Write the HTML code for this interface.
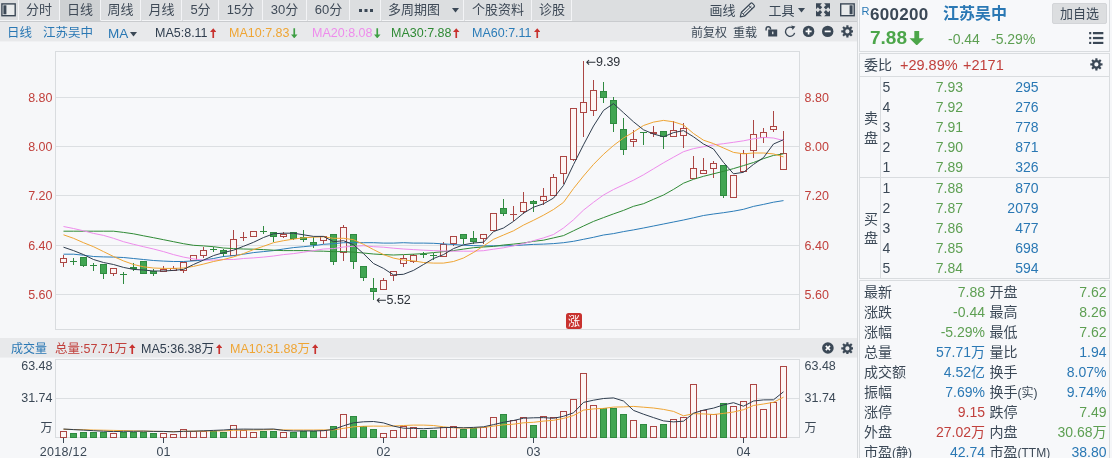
<!DOCTYPE html>
<html lang="zh-CN"><head><meta charset="utf-8"><title>江苏吴中 600200</title><style>
*{margin:0;padding:0;box-sizing:border-box}
html,body{width:1112px;height:458px;overflow:hidden;background:#f6f7f9}
body{font-family:"Liberation Sans","Noto Sans CJK SC",sans-serif;color:#3b4856;position:relative}
.abs{position:absolute;white-space:nowrap}
#tb{position:absolute;left:0;top:0;width:857px;height:22px;background:#dcdee0;border-bottom:1px solid #c9cbce}
.tab{position:absolute;top:0;height:21px;line-height:19px;font-size:13px;text-align:center;color:#3f4a57;border-right:1px solid #f3f4f6;border-bottom:1px solid #f3f4f6}
.tab.sel{background:#ced1d3;border-bottom:1px solid #ced1d3}
#r2{position:absolute;left:0;top:22px;width:857px;height:20px;background:#e8e9eb;border-bottom:1px solid #f0f1f3}
#r2 .abs{top:1px;line-height:21px;font-size:12.5px}
#vh{position:absolute;left:0;top:338px;width:857px;height:20px;background:#e8e9eb;border-bottom:1px solid #eeeff1}
#vh .abs{top:1px;line-height:21px;font-size:12.5px}
.chart{position:absolute;left:0;top:0}
.up{color:#c8322f}.dn{color:#3f9f45}
.ar{display:inline-block;width:6.5px;height:10.5px;vertical-align:-1px;margin-left:2px}
#rp{position:absolute;left:859px;top:0;width:253px;height:458px;background:#f6f7f9}
.box{position:absolute;border:1px solid #d9dcdf;background:#f7f8fa}
.row{position:absolute;left:0;width:100%;height:20px;line-height:20px;font-size:14px}
.row span{position:absolute;top:0;white-space:nowrap}
.g{color:#5d9f52}.r{color:#c1403c}.b{color:#2a78b4}
 small{font-size:12px}</style></head><body>
<div id="tb">
<div class="tab" style="left:0;width:19px"><svg width="18" height="20" viewBox="0 0 18 20" style="display:block"><rect x="1.900" y="3.900" width="13.300" height="11.800" fill="#e9ebec" stroke="#3b4856" stroke-width="1.400"/><rect x="3.400" y="5.300" width="3" height="9" fill="#3b4856"/></svg></div>
<div class="tab" style="left:19px;width:41px">分时</div>
<div class="tab sel" style="left:60px;width:41px">日线</div>
<div class="tab" style="left:101px;width:40px">周线</div>
<div class="tab" style="left:142px;width:40px">月线</div>
<div class="tab" style="left:183px;width:36px">5分</div>
<div class="tab" style="left:219px;width:44px">15分</div>
<div class="tab" style="left:263px;width:44px">30分</div>
<div class="tab" style="left:308px;width:42px">60分</div>
<div class="tab" style="left:351px;width:30px"><svg width="22" height="20" viewBox="0 0 22 20" style="display:block;margin:0 auto"><rect x="4" y="9" width="3" height="3" fill="#3b4856"/><rect x="9.500" y="9" width="3" height="3" fill="#3b4856"/><rect x="15" y="9" width="3" height="3" fill="#3b4856"/></svg></div>
<div class="tab" style="left:382px;width:82px"><span style="position:absolute;left:6px">多周期图</span><svg style="position:absolute;left:70px;top:8px" width="7" height="4.500" viewBox="0 0 7 4.500"><path d="M0 0H7L3.500 4.500Z" fill="#3b4856"/></svg></div>
<div class="tab" style="left:465px;width:67px">个股资料</div>
<div class="tab" style="left:533px;width:39px">诊股</div>
<div class="abs" style="left:709.500px;top:0;line-height:22px;font-size:13px">画线</div>
<svg class="abs" style="left:736px;top:0" width="22" height="21" viewBox="736 0 22 21"><path d="M740.300 16.800L741.400 12.200L750.800 3.200Q751.600 2.500 752.400 3.300L754.100 5.100Q754.900 5.900 754.200 6.800L744.900 15.800Z" fill="#e9ebed" stroke="#3b4856" stroke-width="1.200" stroke-linejoin="round"/><path d="M741.400 12.200L744.900 15.800M748.600 5.300L752.100 8.900M743.200 14L751.500 6" fill="none" stroke="#3b4856" stroke-width="1"/></svg>
<div class="abs" style="left:768.500px;top:0;line-height:22px;font-size:13px">工具</div>
<svg class="abs" style="left:798px;top:8px" width="7" height="4.500" viewBox="0 0 7 4.500"><path d="M0 0H7L3.500 4.500Z" fill="#3b4856"/></svg>
<svg class="abs" style="left:815.900px;top:3.200px" width="14" height="13.600" viewBox="0 0 14.200 13.200"><g fill="#3b4856"><path d="M0 0H6L4.100 1.900L6.300 4.100L4.100 6.300L1.900 4.100L0 6Z"/><path d="M0 0H6L4.100 1.900L6.300 4.100L4.100 6.300L1.900 4.100L0 6Z" transform="translate(14.200 0) scale(-1 1)"/><path d="M0 0H6L4.100 1.900L6.300 4.100L4.100 6.300L1.900 4.100L0 6Z" transform="translate(0 13.200) scale(1 -1)"/><path d="M0 0H6L4.100 1.900L6.300 4.100L4.100 6.300L1.900 4.100L0 6Z" transform="translate(14.200 13.200) scale(-1 -1)"/></g></svg>
<svg class="abs" style="left:839px;top:2px" width="17" height="16" viewBox="839 2 17 16"><rect x="840.700" y="3.900" width="13.500" height="11.800" fill="#e9ebec" stroke="#3b4856" stroke-width="1.400"/><rect x="849.600" y="5.300" width="3" height="9" fill="#3b4856"/></svg>
</div>
<div id="r2">
<div class="abs b" style="left:7px">日线</div><div class="abs b" style="left:43px">江苏吴中</div><div class="abs b" style="left:108px;font-size:13.5px">MA<svg style="margin-left:2px;vertical-align:1.500px" width="7" height="4.500" viewBox="0 0 7 4.500"><path d="M0 0H7L3.500 4.500Z" fill="#3b4856"/></svg></div>
<div class="abs" style="left:155px;color:#2f3d4e">MA5:8.11<svg class="ar" viewBox="0 0 7 11"><path d="M3.5 0 L7 4.2 H4.4 V11 H2.6 V4.2 H0 Z" fill="#c8322f"/></svg></div>
<div class="abs" style="left:229px;color:#efa534">MA10:7.83<svg class="ar" viewBox="0 0 7 11"><path d="M3.5 11 L7 6.8 H4.4 V0 H2.6 V6.8 H0 Z" fill="#3f9f45"/></svg></div>
<div class="abs" style="left:312px;color:#ee8cec">MA20:8.08<svg class="ar" viewBox="0 0 7 11"><path d="M3.5 11 L7 6.8 H4.4 V0 H2.6 V6.8 H0 Z" fill="#3f9f45"/></svg></div>
<div class="abs" style="left:391px;color:#2f8a35">MA30:7.88<svg class="ar" viewBox="0 0 7 11"><path d="M3.5 0 L7 4.2 H4.4 V11 H2.6 V4.2 H0 Z" fill="#c8322f"/></svg></div>
<div class="abs" style="left:472px;color:#2b7cb8">MA60:7.11<svg class="ar" viewBox="0 0 7 11"><path d="M3.5 0 L7 4.2 H4.4 V11 H2.6 V4.2 H0 Z" fill="#c8322f"/></svg></div>
<div class="abs" style="left:691px;font-size:12px">前复权</div><div class="abs" style="left:733px;font-size:12px">重载</div>
<svg class="abs" style="left:763px;top:2px" width="16" height="16" viewBox="763 24 16 16"><path d="M766.100 30.500V28.900A2.200 2.200 0 0 1 770.500 28.900V29.600" fill="none" stroke="#3b4856" stroke-width="1.500"/><rect x="768.200" y="29.500" width="9" height="7" fill="#3b4856"/><rect x="772.100" y="31.600" width="1.300" height="2.600" fill="#e8ebed"/></svg>
<svg class="abs" style="left:783px;top:2px" width="16" height="16" viewBox="783 24 16 16"><path d="M794.600 32.800A4.600 4.600 0 1 1 792.400 27.700" fill="none" stroke="#3b4856" stroke-width="1.300"/><path d="M791.200 25.600L795.400 26.400L792.600 30Z" fill="#3b4856"/></svg>
<svg class="abs" style="left:802px;top:2px" width="14" height="16" viewBox="802 24 14 16"><circle cx="808.600" cy="31.400" r="5.700" fill="#3b4856"/><path d="M805.600 31.400H811.600M808.600 28.400V34.400" stroke="#fff" stroke-width="1.700"/></svg>
<svg class="abs" style="left:821px;top:2px" width="14" height="16" viewBox="821 24 14 16"><circle cx="827.700" cy="31.400" r="5.700" fill="#3b4856"/><path d="M824.700 31.400H830.700" stroke="#fff" stroke-width="1.700"/></svg>
<svg class="abs" style="left:840.700px;top:3.400px" width="12.800" height="12.800" viewBox="0 0 14 14"><circle cx="7" cy="7" r="3.600" fill="none" stroke="#3b4856" stroke-width="2.600"/><g stroke="#3b4856" stroke-width="2.400"><line x1="7" y1="0.300" x2="7" y2="3" transform="rotate(0 7 7)"/><line x1="7" y1="0.300" x2="7" y2="3" transform="rotate(45 7 7)"/><line x1="7" y1="0.300" x2="7" y2="3" transform="rotate(90 7 7)"/><line x1="7" y1="0.300" x2="7" y2="3" transform="rotate(135 7 7)"/><line x1="7" y1="0.300" x2="7" y2="3" transform="rotate(180 7 7)"/><line x1="7" y1="0.300" x2="7" y2="3" transform="rotate(225 7 7)"/><line x1="7" y1="0.300" x2="7" y2="3" transform="rotate(270 7 7)"/><line x1="7" y1="0.300" x2="7" y2="3" transform="rotate(315 7 7)"/></g></svg>
</div>
<div id="vh">
<div class="abs b" style="left:11px;font-size:12px">成交量</div>
<div class="abs" style="left:55px;color:#c1403c">总量:57.71万<svg class="ar" viewBox="0 0 7 11"><path d="M3.5 0 L7 4.2 H4.4 V11 H2.6 V4.2 H0 Z" fill="#c8322f"/></svg></div>
<div class="abs" style="left:141px;color:#2f3d4e">MA5:36.38万<svg class="ar" viewBox="0 0 7 11"><path d="M3.5 0 L7 4.2 H4.4 V11 H2.6 V4.2 H0 Z" fill="#c8322f"/></svg></div>
<div class="abs" style="left:230px;color:#efa534">MA10:31.88万<svg class="ar" viewBox="0 0 7 11"><path d="M3.5 0 L7 4.2 H4.4 V11 H2.6 V4.2 H0 Z" fill="#c8322f"/></svg></div>
<svg class="abs" style="left:821px;top:3px" width="14" height="14" viewBox="0 0 14 14"><circle cx="6.900" cy="7" r="5.800" fill="#3b4856"/><path d="M4.800 4.900L9 9.100M9 4.900L4.800 9.100" stroke="#fff" stroke-width="1.600"/></svg>
<svg class="abs" style="left:840.700px;top:3.600px" width="12.800" height="12.800" viewBox="0 0 14 14"><circle cx="7" cy="7" r="3.600" fill="none" stroke="#3b4856" stroke-width="2.600"/><g stroke="#3b4856" stroke-width="2.400"><line x1="7" y1="0.300" x2="7" y2="3" transform="rotate(0 7 7)"/><line x1="7" y1="0.300" x2="7" y2="3" transform="rotate(45 7 7)"/><line x1="7" y1="0.300" x2="7" y2="3" transform="rotate(90 7 7)"/><line x1="7" y1="0.300" x2="7" y2="3" transform="rotate(135 7 7)"/><line x1="7" y1="0.300" x2="7" y2="3" transform="rotate(180 7 7)"/><line x1="7" y1="0.300" x2="7" y2="3" transform="rotate(225 7 7)"/><line x1="7" y1="0.300" x2="7" y2="3" transform="rotate(270 7 7)"/><line x1="7" y1="0.300" x2="7" y2="3" transform="rotate(315 7 7)"/></g></svg>
</div>
<svg class="chart" width="860" height="458" viewBox="0 0 860 458">
<g shape-rendering="crispEdges" fill="none" stroke="#d9dcdf" stroke-width="1">
<rect x="55.5" y="51.5" width="744" height="278" fill="#f7f8fa"/>
<rect x="55.5" y="359.5" width="744" height="78" fill="#f7f8fa"/>
<line x1="56" x2="799" y1="97.5" y2="97.5" stroke="#dcdfe2"/>
<line x1="56" x2="799" y1="146.5" y2="146.5" stroke="#dcdfe2"/>
<line x1="56" x2="799" y1="195.5" y2="195.5" stroke="#dcdfe2"/>
<line x1="56" x2="799" y1="245.5" y2="245.5" stroke="#dcdfe2"/>
<line x1="56" x2="799" y1="294.5" y2="294.5" stroke="#dcdfe2"/>
<line x1="56" x2="799" y1="398.5" y2="398.5" stroke="#dcdfe2"/>
</g>
<g shape-rendering="crispEdges">
<rect x="63" y="255" width="1" height="3" fill="#ab4644"/>
<rect x="63" y="263" width="1" height="4" fill="#ab4644"/>
<rect x="60.5" y="258.5" width="6" height="4" fill="#fdf4f3" stroke="#ab4644" stroke-width="1"/>
<rect x="73" y="258" width="1" height="3" fill="#2f8a40"/>
<rect x="73" y="262" width="1" height="3" fill="#2f8a40"/>
<rect x="70" y="261" width="7" height="1" fill="#2f8a40"/>
<rect x="83" y="266" width="1" height="1" fill="#2f8a40"/>
<rect x="80.5" y="257.5" width="6" height="8" fill="#41a552" stroke="#2f8a40" stroke-width="1"/>
<rect x="93" y="263" width="1" height="2" fill="#2f8a40"/>
<rect x="93" y="266" width="1" height="5" fill="#2f8a40"/>
<rect x="90" y="265" width="7" height="1" fill="#2f8a40"/>
<rect x="103" y="274" width="1" height="5" fill="#2f8a40"/>
<rect x="100.5" y="264.5" width="6" height="9" fill="#41a552" stroke="#2f8a40" stroke-width="1"/>
<rect x="113" y="274" width="1" height="2" fill="#ab4644"/>
<rect x="110.5" y="268.5" width="6" height="5" fill="#fdf4f3" stroke="#ab4644" stroke-width="1"/>
<rect x="123" y="272" width="1" height="2" fill="#2f8a40"/>
<rect x="123" y="275" width="1" height="9" fill="#2f8a40"/>
<rect x="120" y="274" width="7" height="1" fill="#2f8a40"/>
<rect x="133" y="263" width="1" height="4" fill="#2f8a40"/>
<rect x="133" y="269" width="1" height="2" fill="#2f8a40"/>
<rect x="130" y="267" width="7" height="2" fill="#2f8a40"/>
<rect x="140.5" y="261.5" width="6" height="12" fill="#41a552" stroke="#2f8a40" stroke-width="1"/>
<rect x="153" y="269" width="1" height="2" fill="#2f8a40"/>
<rect x="153" y="274" width="1" height="2" fill="#2f8a40"/>
<rect x="150.5" y="271.5" width="6" height="2" fill="#41a552" stroke="#2f8a40" stroke-width="1"/>
<rect x="163" y="266" width="1" height="3" fill="#ab4644"/>
<rect x="160.5" y="269.5" width="6" height="2" fill="#fdf4f3" stroke="#ab4644" stroke-width="1"/>
<rect x="173" y="266" width="1" height="2" fill="#ab4644"/>
<rect x="170.5" y="268.5" width="6" height="2" fill="#fdf4f3" stroke="#ab4644" stroke-width="1"/>
<rect x="183" y="271" width="1" height="2" fill="#ab4644"/>
<rect x="180.5" y="262.5" width="6" height="8" fill="#fdf4f3" stroke="#ab4644" stroke-width="1"/>
<rect x="190.5" y="255.5" width="6" height="5" fill="#fdf4f3" stroke="#ab4644" stroke-width="1"/>
<rect x="203" y="247" width="1" height="3" fill="#ab4644"/>
<rect x="203" y="256" width="1" height="2" fill="#ab4644"/>
<rect x="200.5" y="250.5" width="6" height="5" fill="#fdf4f3" stroke="#ab4644" stroke-width="1"/>
<rect x="213" y="247" width="1" height="2" fill="#2f8a40"/>
<rect x="213" y="250" width="1" height="2" fill="#2f8a40"/>
<rect x="210" y="249" width="7" height="1" fill="#2f8a40"/>
<rect x="223" y="249" width="1" height="1" fill="#2f8a40"/>
<rect x="223" y="254" width="1" height="3" fill="#2f8a40"/>
<rect x="220.5" y="250.5" width="6" height="3" fill="#41a552" stroke="#2f8a40" stroke-width="1"/>
<rect x="233" y="230" width="1" height="9" fill="#ab4644"/>
<rect x="230.5" y="239.5" width="6" height="16" fill="#fdf4f3" stroke="#ab4644" stroke-width="1"/>
<rect x="243" y="232" width="1" height="5" fill="#ab4644"/>
<rect x="243" y="238" width="1" height="3" fill="#ab4644"/>
<rect x="240" y="237" width="7" height="1" fill="#ab4644"/>
<rect x="250.5" y="231.5" width="6" height="5" fill="#fdf4f3" stroke="#ab4644" stroke-width="1"/>
<rect x="263" y="226" width="1" height="5" fill="#2f8a40"/>
<rect x="263" y="232" width="1" height="2" fill="#2f8a40"/>
<rect x="260" y="231" width="7" height="1" fill="#2f8a40"/>
<rect x="273" y="237" width="1" height="5" fill="#2f8a40"/>
<rect x="270.5" y="232.5" width="6" height="4" fill="#41a552" stroke="#2f8a40" stroke-width="1"/>
<rect x="283" y="232" width="1" height="2" fill="#ab4644"/>
<rect x="283" y="237" width="1" height="1" fill="#ab4644"/>
<rect x="280.5" y="234.5" width="6" height="2" fill="#fdf4f3" stroke="#ab4644" stroke-width="1"/>
<rect x="293" y="239" width="1" height="1" fill="#2f8a40"/>
<rect x="290.5" y="232.5" width="6" height="6" fill="#41a552" stroke="#2f8a40" stroke-width="1"/>
<rect x="303" y="230" width="1" height="7" fill="#2f8a40"/>
<rect x="303" y="240" width="1" height="2" fill="#2f8a40"/>
<rect x="300.5" y="237.5" width="6" height="2" fill="#41a552" stroke="#2f8a40" stroke-width="1"/>
<rect x="313" y="237" width="1" height="5" fill="#2f8a40"/>
<rect x="313" y="245" width="1" height="3" fill="#2f8a40"/>
<rect x="310.5" y="242.5" width="6" height="2" fill="#41a552" stroke="#2f8a40" stroke-width="1"/>
<rect x="323" y="241" width="1" height="3" fill="#ab4644"/>
<rect x="320.5" y="236.5" width="6" height="4" fill="#fdf4f3" stroke="#ab4644" stroke-width="1"/>
<rect x="333" y="262" width="1" height="3" fill="#2f8a40"/>
<rect x="330.5" y="234.5" width="6" height="27" fill="#41a552" stroke="#2f8a40" stroke-width="1"/>
<rect x="343" y="225" width="1" height="2" fill="#ab4644"/>
<rect x="343" y="253" width="1" height="8" fill="#ab4644"/>
<rect x="340.5" y="227.5" width="6" height="25" fill="#fdf4f3" stroke="#ab4644" stroke-width="1"/>
<rect x="353" y="262" width="1" height="7" fill="#2f8a40"/>
<rect x="350.5" y="234.5" width="6" height="27" fill="#41a552" stroke="#2f8a40" stroke-width="1"/>
<rect x="363" y="278" width="1" height="3" fill="#2f8a40"/>
<rect x="360.5" y="266.5" width="6" height="11" fill="#41a552" stroke="#2f8a40" stroke-width="1"/>
<rect x="373" y="278" width="1" height="10" fill="#2f8a40"/>
<rect x="373" y="292" width="1" height="8" fill="#2f8a40"/>
<rect x="370.5" y="288.5" width="6" height="3" fill="#41a552" stroke="#2f8a40" stroke-width="1"/>
<rect x="383" y="278" width="1" height="2" fill="#ab4644"/>
<rect x="380.5" y="280.5" width="6" height="9" fill="#fdf4f3" stroke="#ab4644" stroke-width="1"/>
<rect x="393" y="276" width="1" height="5" fill="#ab4644"/>
<rect x="390.5" y="271.5" width="6" height="4" fill="#fdf4f3" stroke="#ab4644" stroke-width="1"/>
<rect x="403" y="255" width="1" height="3" fill="#ab4644"/>
<rect x="403" y="264" width="1" height="3" fill="#ab4644"/>
<rect x="400.5" y="258.5" width="6" height="5" fill="#fdf4f3" stroke="#ab4644" stroke-width="1"/>
<rect x="413" y="254" width="1" height="1" fill="#ab4644"/>
<rect x="413" y="262" width="1" height="1" fill="#ab4644"/>
<rect x="410.5" y="255.5" width="6" height="6" fill="#fdf4f3" stroke="#ab4644" stroke-width="1"/>
<rect x="423" y="252" width="1" height="2" fill="#2f8a40"/>
<rect x="423" y="255" width="1" height="3" fill="#2f8a40"/>
<rect x="420" y="254" width="7" height="1" fill="#2f8a40"/>
<rect x="433" y="253" width="1" height="2" fill="#2f8a40"/>
<rect x="433" y="256" width="1" height="4" fill="#2f8a40"/>
<rect x="430" y="255" width="7" height="1" fill="#2f8a40"/>
<rect x="443" y="242" width="1" height="2" fill="#ab4644"/>
<rect x="440.5" y="244.5" width="6" height="12" fill="#fdf4f3" stroke="#ab4644" stroke-width="1"/>
<rect x="453" y="244" width="1" height="2" fill="#ab4644"/>
<rect x="450.5" y="236.5" width="6" height="7" fill="#fdf4f3" stroke="#ab4644" stroke-width="1"/>
<rect x="463" y="239" width="1" height="5" fill="#2f8a40"/>
<rect x="460.5" y="234.5" width="6" height="4" fill="#41a552" stroke="#2f8a40" stroke-width="1"/>
<rect x="473" y="231" width="1" height="7" fill="#2f8a40"/>
<rect x="473" y="242" width="1" height="2" fill="#2f8a40"/>
<rect x="470.5" y="238.5" width="6" height="3" fill="#41a552" stroke="#2f8a40" stroke-width="1"/>
<rect x="483" y="239" width="1" height="5" fill="#ab4644"/>
<rect x="480.5" y="234.5" width="6" height="4" fill="#fdf4f3" stroke="#ab4644" stroke-width="1"/>
<rect x="490.5" y="213.5" width="6" height="17" fill="#fdf4f3" stroke="#ab4644" stroke-width="1"/>
<rect x="503" y="199" width="1" height="9" fill="#2f8a40"/>
<rect x="503" y="214" width="1" height="2" fill="#2f8a40"/>
<rect x="500.5" y="208.5" width="6" height="5" fill="#41a552" stroke="#2f8a40" stroke-width="1"/>
<rect x="513" y="206" width="1" height="8" fill="#ab4644"/>
<rect x="513" y="215" width="1" height="6" fill="#ab4644"/>
<rect x="510" y="214" width="7" height="1" fill="#ab4644"/>
<rect x="523" y="192" width="1" height="10" fill="#ab4644"/>
<rect x="523" y="212" width="1" height="2" fill="#ab4644"/>
<rect x="520.5" y="202.5" width="6" height="9" fill="#fdf4f3" stroke="#ab4644" stroke-width="1"/>
<rect x="533" y="200" width="1" height="1" fill="#2f8a40"/>
<rect x="533" y="204" width="1" height="8" fill="#2f8a40"/>
<rect x="530.5" y="201.5" width="6" height="2" fill="#41a552" stroke="#2f8a40" stroke-width="1"/>
<rect x="543" y="188" width="1" height="8" fill="#ab4644"/>
<rect x="543" y="201" width="1" height="4" fill="#ab4644"/>
<rect x="540.5" y="196.5" width="6" height="4" fill="#fdf4f3" stroke="#ab4644" stroke-width="1"/>
<rect x="553" y="174" width="1" height="3" fill="#ab4644"/>
<rect x="550.5" y="177.5" width="6" height="18" fill="#fdf4f3" stroke="#ab4644" stroke-width="1"/>
<rect x="563" y="174" width="1" height="10" fill="#ab4644"/>
<rect x="560.5" y="156.5" width="6" height="17" fill="#fdf4f3" stroke="#ab4644" stroke-width="1"/>
<rect x="573" y="160" width="1" height="1" fill="#ab4644"/>
<rect x="570.5" y="108.5" width="6" height="51" fill="#fdf4f3" stroke="#ab4644" stroke-width="1"/>
<rect x="583" y="61" width="1" height="41" fill="#ab4644"/>
<rect x="583" y="113" width="1" height="24" fill="#ab4644"/>
<rect x="580.5" y="102.5" width="6" height="10" fill="#fdf4f3" stroke="#ab4644" stroke-width="1"/>
<rect x="593" y="80" width="1" height="10" fill="#ab4644"/>
<rect x="593" y="111" width="1" height="5" fill="#ab4644"/>
<rect x="590.5" y="90.5" width="6" height="20" fill="#fdf4f3" stroke="#ab4644" stroke-width="1"/>
<rect x="603" y="82" width="1" height="9" fill="#2f8a40"/>
<rect x="603" y="98" width="1" height="5" fill="#2f8a40"/>
<rect x="600.5" y="91.5" width="6" height="6" fill="#41a552" stroke="#2f8a40" stroke-width="1"/>
<rect x="613" y="97" width="1" height="3" fill="#2f8a40"/>
<rect x="613" y="124" width="1" height="8" fill="#2f8a40"/>
<rect x="610.5" y="100.5" width="6" height="23" fill="#41a552" stroke="#2f8a40" stroke-width="1"/>
<rect x="623" y="118" width="1" height="11" fill="#2f8a40"/>
<rect x="623" y="150" width="1" height="5" fill="#2f8a40"/>
<rect x="620.5" y="129.5" width="6" height="20" fill="#41a552" stroke="#2f8a40" stroke-width="1"/>
<rect x="633" y="130" width="1" height="9" fill="#ab4644"/>
<rect x="633" y="142" width="1" height="5" fill="#ab4644"/>
<rect x="630.5" y="139.5" width="6" height="2" fill="#fdf4f3" stroke="#ab4644" stroke-width="1"/>
<rect x="643" y="133" width="1" height="12" fill="#2f8a40"/>
<rect x="640" y="132" width="7" height="1" fill="#2f8a40"/>
<rect x="653" y="126" width="1" height="6" fill="#ab4644"/>
<rect x="653" y="134" width="1" height="3" fill="#ab4644"/>
<rect x="650" y="132" width="7" height="2" fill="#ab4644"/>
<rect x="663" y="137" width="1" height="12" fill="#2f8a40"/>
<rect x="660.5" y="131.5" width="6" height="5" fill="#41a552" stroke="#2f8a40" stroke-width="1"/>
<rect x="673" y="121" width="1" height="9" fill="#ab4644"/>
<rect x="670.5" y="130.5" width="6" height="6" fill="#fdf4f3" stroke="#ab4644" stroke-width="1"/>
<rect x="683" y="123" width="1" height="5" fill="#ab4644"/>
<rect x="683" y="136" width="1" height="12" fill="#ab4644"/>
<rect x="680.5" y="128.5" width="6" height="7" fill="#fdf4f3" stroke="#ab4644" stroke-width="1"/>
<rect x="693" y="156" width="1" height="12" fill="#ab4644"/>
<rect x="690.5" y="168.5" width="6" height="10" fill="#fdf4f3" stroke="#ab4644" stroke-width="1"/>
<rect x="703" y="158" width="1" height="12" fill="#ab4644"/>
<rect x="700.5" y="170.5" width="6" height="3" fill="#fdf4f3" stroke="#ab4644" stroke-width="1"/>
<rect x="713" y="161" width="1" height="2" fill="#ab4644"/>
<rect x="713" y="169" width="1" height="9" fill="#ab4644"/>
<rect x="710.5" y="163.5" width="6" height="5" fill="#fdf4f3" stroke="#ab4644" stroke-width="1"/>
<rect x="723" y="196" width="1" height="2" fill="#2f8a40"/>
<rect x="720.5" y="165.5" width="6" height="30" fill="#41a552" stroke="#2f8a40" stroke-width="1"/>
<rect x="730.5" y="175.5" width="6" height="22" fill="#fdf4f3" stroke="#ab4644" stroke-width="1"/>
<rect x="743" y="150" width="1" height="3" fill="#ab4644"/>
<rect x="740.5" y="153.5" width="6" height="18" fill="#fdf4f3" stroke="#ab4644" stroke-width="1"/>
<rect x="753" y="120" width="1" height="14" fill="#ab4644"/>
<rect x="753" y="151" width="1" height="7" fill="#ab4644"/>
<rect x="750.5" y="134.5" width="6" height="16" fill="#fdf4f3" stroke="#ab4644" stroke-width="1"/>
<rect x="763" y="128" width="1" height="4" fill="#ab4644"/>
<rect x="763" y="138" width="1" height="5" fill="#ab4644"/>
<rect x="760.5" y="132.5" width="6" height="5" fill="#fdf4f3" stroke="#ab4644" stroke-width="1"/>
<rect x="773" y="111" width="1" height="15" fill="#ab4644"/>
<rect x="773" y="130" width="1" height="2" fill="#ab4644"/>
<rect x="770.5" y="126.5" width="6" height="3" fill="#fdf4f3" stroke="#ab4644" stroke-width="1"/>
<rect x="783" y="131" width="1" height="22" fill="#ab4644"/>
<rect x="780.5" y="153.5" width="6" height="16" fill="#fdf4f3" stroke="#ab4644" stroke-width="1"/>
</g>
<path d="M63.5,254.2 L73.5,254.2 L83.5,255.2 L93.5,256.5 L103.5,256.9 L113.5,257.1 L123.5,257.5 L133.5,258.5 L143.5,259.5 L153.5,260.5 L163.5,261.1 L173.5,261.5 L183.5,261.5 L193.5,260.9 L203.5,260.1 L213.5,258.5 L223.5,256.5 L233.5,255.6 L243.5,254.2 L253.5,252.6 L263.5,251.6 L273.5,250.6 L283.5,249.0 L293.5,247.6 L303.5,246.7 L313.5,245.7 L323.5,244.3 L333.5,243.7 L343.5,242.7 L353.5,242.7 L363.5,242.7 L373.5,242.7 L383.5,243.1 L393.5,243.1 L403.5,242.7 L413.5,243.1 L423.5,243.1 L433.5,243.3 L443.5,243.9 L453.5,244.5 L463.5,245.2 L473.5,245.6 L483.5,245.9 L493.5,245.8 L503.5,245.8 L513.5,245.6 L523.5,245.0 L533.5,244.4 L543.5,244.1 L553.5,243.6 L563.5,242.7 L573.5,241.3 L583.5,239.3 L593.5,237.3 L603.5,235.0 L613.5,233.6 L623.5,231.6 L633.5,229.9 L643.5,228.0 L653.5,226.0 L663.5,224.0 L673.5,222.0 L683.5,220.0 L693.5,217.8 L703.5,215.5 L713.5,214.0 L723.5,212.7 L733.5,211.2 L743.5,209.3 L753.5,206.4 L763.5,204.4 L773.5,202.2 L783.5,200.6" fill="none" stroke="#2b7cb8" stroke-width="1" stroke-linejoin="round"/>
<path d="M63.5,231.2 L73.5,231.2 L83.5,231.2 L93.5,231.2 L103.5,231.2 L113.5,231.2 L123.5,232.4 L133.5,233.8 L143.5,235.8 L153.5,237.7 L163.5,239.7 L173.5,241.7 L183.5,243.7 L193.5,245.3 L203.5,245.9 L213.5,246.7 L223.5,248.0 L233.5,248.6 L243.5,249.0 L253.5,249.2 L263.5,249.6 L273.5,250.2 L283.5,250.6 L293.5,250.6 L303.5,250.6 L313.5,251.0 L323.5,251.2 L333.5,251.6 L343.5,251.6 L353.5,252.2 L363.5,253.0 L373.5,254.0 L383.5,254.6 L393.5,255.0 L403.5,254.6 L413.5,254.2 L423.5,253.6 L433.5,252.6 L443.5,251.6 L453.5,250.6 L463.5,249.1 L473.5,247.7 L483.5,247.0 L493.5,246.4 L503.5,245.0 L513.5,244.1 L523.5,243.0 L533.5,241.3 L543.5,240.2 L553.5,237.9 L563.5,235.6 L573.5,230.8 L583.5,226.0 L593.5,221.4 L603.5,217.6 L613.5,213.9 L623.5,210.4 L633.5,206.3 L643.5,203.7 L653.5,199.3 L663.5,195.0 L673.5,189.4 L683.5,183.2 L693.5,179.3 L703.5,176.3 L713.5,173.8 L723.5,171.3 L733.5,168.6 L743.5,165.6 L753.5,162.5 L763.5,158.6 L773.5,155.4 L783.5,153.9" fill="none" stroke="#2f8a35" stroke-width="1" stroke-linejoin="round"/>
<path d="M63.5,226.5 L73.5,228.5 L83.5,230.8 L93.5,233.4 L103.5,235.4 L113.5,238.3 L123.5,241.7 L133.5,244.3 L143.5,246.7 L153.5,249.0 L163.5,251.6 L173.5,254.6 L183.5,257.1 L193.5,258.9 L203.5,260.1 L213.5,260.1 L223.5,259.5 L233.5,259.5 L243.5,258.5 L253.5,257.9 L263.5,257.1 L273.5,256.0 L283.5,254.6 L293.5,253.6 L303.5,252.2 L313.5,250.6 L323.5,249.0 L333.5,248.6 L343.5,247.0 L353.5,246.3 L363.5,245.7 L373.5,246.7 L383.5,247.2 L393.5,248.2 L403.5,249.0 L413.5,249.6 L423.5,250.2 L433.5,250.6 L443.5,251.0 L453.5,251.2 L463.5,251.2 L473.5,251.2 L483.5,250.7 L493.5,249.2 L503.5,247.8 L513.5,245.8 L523.5,243.6 L533.5,240.7 L543.5,237.9 L553.5,234.5 L563.5,228.0 L573.5,219.8 L583.5,210.1 L593.5,202.3 L603.5,195.0 L613.5,189.5 L623.5,184.8 L633.5,180.2 L643.5,174.8 L653.5,168.8 L663.5,162.8 L673.5,157.2 L683.5,151.7 L693.5,148.6 L703.5,146.7 L713.5,144.9 L723.5,143.7 L733.5,142.3 L743.5,140.8 L753.5,138.8 L763.5,137.4 L773.5,138.0 L783.5,140.5" fill="none" stroke="#ee8cec" stroke-width="1" stroke-linejoin="round"/>
<path d="M63.5,234.8 L73.5,238.3 L83.5,242.7 L93.5,246.7 L103.5,251.6 L113.5,256.5 L123.5,260.9 L133.5,264.5 L143.5,266.8 L153.5,268.0 L163.5,268.4 L173.5,268.4 L183.5,268.0 L193.5,266.4 L203.5,264.1 L213.5,261.5 L223.5,259.5 L233.5,256.9 L243.5,253.6 L253.5,249.6 L263.5,246.3 L273.5,242.7 L283.5,240.7 L293.5,239.1 L303.5,237.8 L313.5,237.2 L323.5,236.8 L333.5,238.3 L343.5,238.3 L353.5,239.7 L363.5,244.3 L373.5,249.6 L383.5,254.6 L393.5,258.1 L403.5,260.1 L413.5,260.9 L423.5,262.5 L433.5,263.1 L443.5,263.1 L453.5,261.5 L463.5,258.0 L473.5,252.5 L483.5,246.0 L493.5,239.3 L503.5,235.0 L513.5,230.8 L523.5,225.1 L533.5,220.3 L543.5,215.2 L553.5,209.5 L563.5,202.4 L573.5,188.5 L583.5,176.0 L593.5,164.4 L603.5,154.3 L613.5,145.5 L623.5,138.0 L633.5,132.0 L643.5,125.5 L653.5,122.1 L663.5,120.4 L673.5,121.8 L683.5,125.0 L693.5,133.5 L703.5,140.2 L713.5,143.6 L723.5,148.0 L733.5,152.4 L743.5,153.8 L753.5,153.0 L763.5,153.0 L773.5,153.9 L783.5,156.9" fill="none" stroke="#efa534" stroke-width="1" stroke-linejoin="round"/>
<path d="M63.5,247.2 L73.5,250.6 L83.5,254.6 L93.5,259.5 L103.5,262.5 L113.5,264.5 L123.5,267.4 L133.5,269.4 L143.5,270.0 L153.5,271.0 L163.5,271.0 L173.5,270.4 L183.5,269.4 L193.5,264.5 L203.5,260.1 L213.5,255.6 L223.5,252.6 L233.5,250.2 L243.5,246.3 L253.5,242.3 L263.5,237.5 L273.5,233.8 L283.5,233.2 L293.5,233.2 L303.5,234.8 L313.5,236.4 L323.5,236.4 L333.5,241.7 L343.5,240.7 L353.5,244.7 L363.5,253.6 L373.5,263.5 L383.5,268.4 L393.5,274.9 L403.5,274.3 L413.5,270.4 L423.5,264.5 L433.5,258.5 L443.5,254.6 L453.5,248.6 L463.5,244.8 L473.5,243.0 L483.5,242.2 L493.5,231.6 L503.5,228.0 L513.5,221.4 L523.5,213.2 L533.5,207.2 L543.5,203.8 L553.5,198.1 L563.5,185.4 L573.5,164.6 L583.5,144.8 L593.5,126.0 L603.5,110.4 L613.5,103.6 L623.5,112.7 L633.5,121.8 L643.5,129.8 L653.5,134.0 L663.5,136.8 L673.5,132.6 L683.5,130.6 L693.5,136.8 L703.5,144.0 L713.5,149.0 L723.5,162.4 L733.5,173.8 L743.5,172.3 L753.5,164.4 L763.5,157.6 L773.5,144.0 L783.5,139.7" fill="none" stroke="#2f3d4e" stroke-width="1" stroke-linejoin="round"/>
<g shape-rendering="crispEdges">
<rect x="60.5" y="431.5" width="6" height="6" fill="#fdf4f3" stroke="#ab4644" stroke-width="1"/>
<rect x="70.5" y="433.5" width="6" height="4" fill="#41a552" stroke="#2f8a40" stroke-width="1"/>
<rect x="80.5" y="432.5" width="6" height="5" fill="#41a552" stroke="#2f8a40" stroke-width="1"/>
<rect x="90.5" y="432.5" width="6" height="5" fill="#41a552" stroke="#2f8a40" stroke-width="1"/>
<rect x="100.5" y="432.5" width="6" height="5" fill="#41a552" stroke="#2f8a40" stroke-width="1"/>
<rect x="110.5" y="433.5" width="6" height="4" fill="#fdf4f3" stroke="#ab4644" stroke-width="1"/>
<rect x="120.5" y="432.5" width="6" height="5" fill="#41a552" stroke="#2f8a40" stroke-width="1"/>
<rect x="130.5" y="432.5" width="6" height="5" fill="#41a552" stroke="#2f8a40" stroke-width="1"/>
<rect x="140.5" y="432.5" width="6" height="5" fill="#41a552" stroke="#2f8a40" stroke-width="1"/>
<rect x="150.5" y="433.5" width="6" height="4" fill="#41a552" stroke="#2f8a40" stroke-width="1"/>
<rect x="160.5" y="433.5" width="6" height="4" fill="#fdf4f3" stroke="#ab4644" stroke-width="1"/>
<rect x="170.5" y="434.5" width="6" height="3" fill="#fdf4f3" stroke="#ab4644" stroke-width="1"/>
<rect x="180.5" y="429.5" width="6" height="8" fill="#fdf4f3" stroke="#ab4644" stroke-width="1"/>
<rect x="190.5" y="431.5" width="6" height="6" fill="#fdf4f3" stroke="#ab4644" stroke-width="1"/>
<rect x="200.5" y="431.5" width="6" height="6" fill="#fdf4f3" stroke="#ab4644" stroke-width="1"/>
<rect x="210.5" y="431.5" width="6" height="6" fill="#41a552" stroke="#2f8a40" stroke-width="1"/>
<rect x="220.5" y="432.5" width="6" height="5" fill="#41a552" stroke="#2f8a40" stroke-width="1"/>
<rect x="230.5" y="425.5" width="6" height="12" fill="#fdf4f3" stroke="#ab4644" stroke-width="1"/>
<rect x="240.5" y="430.5" width="6" height="7" fill="#fdf4f3" stroke="#ab4644" stroke-width="1"/>
<rect x="250.5" y="432.5" width="6" height="5" fill="#fdf4f3" stroke="#ab4644" stroke-width="1"/>
<rect x="260.5" y="431.5" width="6" height="6" fill="#41a552" stroke="#2f8a40" stroke-width="1"/>
<rect x="270.5" y="431.5" width="6" height="6" fill="#41a552" stroke="#2f8a40" stroke-width="1"/>
<rect x="280.5" y="432.5" width="6" height="5" fill="#fdf4f3" stroke="#ab4644" stroke-width="1"/>
<rect x="290.5" y="432.5" width="6" height="5" fill="#41a552" stroke="#2f8a40" stroke-width="1"/>
<rect x="300.5" y="431.5" width="6" height="6" fill="#41a552" stroke="#2f8a40" stroke-width="1"/>
<rect x="310.5" y="431.5" width="6" height="6" fill="#41a552" stroke="#2f8a40" stroke-width="1"/>
<rect x="320.5" y="430.5" width="6" height="7" fill="#fdf4f3" stroke="#ab4644" stroke-width="1"/>
<rect x="330.5" y="426.5" width="6" height="11" fill="#41a552" stroke="#2f8a40" stroke-width="1"/>
<rect x="340.5" y="414.5" width="6" height="23" fill="#fdf4f3" stroke="#ab4644" stroke-width="1"/>
<rect x="350.5" y="416.5" width="6" height="21" fill="#41a552" stroke="#2f8a40" stroke-width="1"/>
<rect x="360.5" y="426.5" width="6" height="11" fill="#41a552" stroke="#2f8a40" stroke-width="1"/>
<rect x="370.5" y="429.5" width="6" height="8" fill="#41a552" stroke="#2f8a40" stroke-width="1"/>
<rect x="380.5" y="433.5" width="6" height="4" fill="#fdf4f3" stroke="#ab4644" stroke-width="1"/>
<rect x="390.5" y="430.5" width="6" height="7" fill="#fdf4f3" stroke="#ab4644" stroke-width="1"/>
<rect x="400.5" y="426.5" width="6" height="11" fill="#fdf4f3" stroke="#ab4644" stroke-width="1"/>
<rect x="410.5" y="427.5" width="6" height="10" fill="#fdf4f3" stroke="#ab4644" stroke-width="1"/>
<rect x="420.5" y="430.5" width="6" height="7" fill="#41a552" stroke="#2f8a40" stroke-width="1"/>
<rect x="430.5" y="430.5" width="6" height="7" fill="#41a552" stroke="#2f8a40" stroke-width="1"/>
<rect x="440.5" y="427.5" width="6" height="10" fill="#fdf4f3" stroke="#ab4644" stroke-width="1"/>
<rect x="450.5" y="426.5" width="6" height="11" fill="#fdf4f3" stroke="#ab4644" stroke-width="1"/>
<rect x="460.5" y="429.5" width="6" height="8" fill="#41a552" stroke="#2f8a40" stroke-width="1"/>
<rect x="470.5" y="428.5" width="6" height="9" fill="#41a552" stroke="#2f8a40" stroke-width="1"/>
<rect x="480.5" y="427.5" width="6" height="10" fill="#fdf4f3" stroke="#ab4644" stroke-width="1"/>
<rect x="490.5" y="417.5" width="6" height="20" fill="#fdf4f3" stroke="#ab4644" stroke-width="1"/>
<rect x="500.5" y="414.5" width="6" height="23" fill="#41a552" stroke="#2f8a40" stroke-width="1"/>
<rect x="510.5" y="420.5" width="6" height="17" fill="#fdf4f3" stroke="#ab4644" stroke-width="1"/>
<rect x="520.5" y="417.5" width="6" height="20" fill="#fdf4f3" stroke="#ab4644" stroke-width="1"/>
<rect x="530.5" y="425.5" width="6" height="12" fill="#41a552" stroke="#2f8a40" stroke-width="1"/>
<rect x="540.5" y="416.5" width="6" height="21" fill="#fdf4f3" stroke="#ab4644" stroke-width="1"/>
<rect x="550.5" y="417.5" width="6" height="20" fill="#fdf4f3" stroke="#ab4644" stroke-width="1"/>
<rect x="560.5" y="411.5" width="6" height="26" fill="#fdf4f3" stroke="#ab4644" stroke-width="1"/>
<rect x="570.5" y="399.5" width="6" height="38" fill="#fdf4f3" stroke="#ab4644" stroke-width="1"/>
<rect x="580.5" y="373.5" width="6" height="64" fill="#fdf4f3" stroke="#ab4644" stroke-width="1"/>
<rect x="590.5" y="405.5" width="6" height="32" fill="#fdf4f3" stroke="#ab4644" stroke-width="1"/>
<rect x="600.5" y="408.5" width="6" height="29" fill="#41a552" stroke="#2f8a40" stroke-width="1"/>
<rect x="610.5" y="408.5" width="6" height="29" fill="#41a552" stroke="#2f8a40" stroke-width="1"/>
<rect x="620.5" y="414.5" width="6" height="23" fill="#41a552" stroke="#2f8a40" stroke-width="1"/>
<rect x="630.5" y="420.5" width="6" height="17" fill="#fdf4f3" stroke="#ab4644" stroke-width="1"/>
<rect x="640.5" y="424.5" width="6" height="13" fill="#41a552" stroke="#2f8a40" stroke-width="1"/>
<rect x="650.5" y="426.5" width="6" height="11" fill="#fdf4f3" stroke="#ab4644" stroke-width="1"/>
<rect x="660.5" y="424.5" width="6" height="13" fill="#41a552" stroke="#2f8a40" stroke-width="1"/>
<rect x="670.5" y="419.5" width="6" height="18" fill="#fdf4f3" stroke="#ab4644" stroke-width="1"/>
<rect x="680.5" y="417.5" width="6" height="20" fill="#fdf4f3" stroke="#ab4644" stroke-width="1"/>
<rect x="690.5" y="384.5" width="6" height="53" fill="#fdf4f3" stroke="#ab4644" stroke-width="1"/>
<rect x="700.5" y="410.5" width="6" height="27" fill="#fdf4f3" stroke="#ab4644" stroke-width="1"/>
<rect x="710.5" y="414.5" width="6" height="23" fill="#fdf4f3" stroke="#ab4644" stroke-width="1"/>
<rect x="720.5" y="403.5" width="6" height="34" fill="#41a552" stroke="#2f8a40" stroke-width="1"/>
<rect x="730.5" y="406.5" width="6" height="31" fill="#fdf4f3" stroke="#ab4644" stroke-width="1"/>
<rect x="740.5" y="401.5" width="6" height="36" fill="#fdf4f3" stroke="#ab4644" stroke-width="1"/>
<rect x="750.5" y="384.5" width="6" height="53" fill="#fdf4f3" stroke="#ab4644" stroke-width="1"/>
<rect x="760.5" y="409.5" width="6" height="28" fill="#fdf4f3" stroke="#ab4644" stroke-width="1"/>
<rect x="770.5" y="402.5" width="6" height="35" fill="#fdf4f3" stroke="#ab4644" stroke-width="1"/>
<rect x="780.5" y="366.5" width="6" height="71" fill="#fdf4f3" stroke="#ab4644" stroke-width="1"/>
</g>
<path d="M63.5,429.3 L73.5,429.5 L83.5,429.7 L93.5,430.0 L103.5,430.2 L113.5,430.4 L123.5,430.6 L133.5,430.9 L143.5,431.1 L153.5,431.3 L163.5,431.5 L173.5,431.6 L183.5,431.3 L193.5,431.2 L203.5,431.1 L213.5,430.9 L223.5,430.9 L233.5,430.3 L243.5,430.1 L253.5,430.0 L263.5,429.8 L273.5,429.5 L283.5,429.9 L293.5,430.0 L303.5,430.0 L313.5,430.0 L323.5,429.9 L333.5,429.9 L343.5,428.4 L353.5,426.8 L363.5,426.3 L373.5,426.1 L383.5,426.2 L393.5,426.0 L403.5,425.5 L413.5,425.1 L423.5,425.1 L433.5,425.5 L443.5,426.8 L453.5,427.8 L463.5,428.1 L473.5,428.0 L483.5,427.5 L493.5,426.1 L503.5,424.8 L513.5,424.2 L523.5,422.8 L533.5,422.3 L543.5,421.1 L553.5,420.3 L563.5,418.4 L573.5,415.5 L583.5,410.1 L593.5,408.9 L603.5,408.4 L613.5,407.1 L623.5,406.9 L633.5,406.4 L643.5,407.2 L653.5,408.0 L663.5,409.4 L673.5,411.4 L683.5,415.8 L693.5,413.7 L703.5,413.9 L713.5,414.5 L723.5,413.4 L733.5,412.0 L743.5,409.7 L753.5,405.5 L763.5,404.0 L773.5,402.3 L783.5,397.2" fill="none" stroke="#efa534" stroke-width="1" stroke-linejoin="round"/>
<path d="M63.5,429.0 L73.5,429.6 L83.5,430.1 L93.5,430.7 L103.5,431.2 L113.5,431.6 L123.5,431.3 L133.5,431.3 L143.5,431.1 L153.5,431.4 L163.5,431.4 L173.5,431.9 L183.5,431.3 L193.5,431.2 L203.5,430.8 L213.5,430.4 L223.5,430.0 L233.5,429.3 L243.5,429.1 L253.5,429.2 L263.5,429.2 L273.5,429.0 L283.5,430.4 L293.5,431.0 L303.5,430.9 L313.5,430.9 L323.5,430.7 L333.5,429.4 L343.5,425.8 L353.5,422.8 L363.5,421.8 L373.5,421.5 L383.5,422.9 L393.5,426.1 L403.5,428.2 L413.5,428.4 L423.5,428.7 L433.5,428.2 L443.5,427.6 L453.5,427.4 L463.5,427.8 L473.5,427.4 L483.5,426.8 L493.5,424.6 L503.5,422.3 L513.5,420.5 L523.5,418.2 L533.5,417.8 L543.5,417.6 L553.5,418.3 L563.5,416.3 L573.5,412.8 L583.5,402.4 L593.5,400.2 L603.5,398.5 L613.5,397.9 L623.5,401.0 L633.5,410.4 L643.5,414.2 L653.5,417.6 L663.5,420.9 L673.5,421.9 L683.5,421.2 L693.5,413.2 L703.5,410.1 L713.5,408.1 L723.5,404.9 L733.5,402.7 L743.5,406.2 L753.5,401.0 L763.5,399.9 L773.5,399.8 L783.5,391.8" fill="none" stroke="#2f3d4e" stroke-width="1" stroke-linejoin="round"/>
<g shape-rendering="crispEdges" fill="#3b4856">
<rect x="63" y="438" width="1" height="5"/>
<rect x="163" y="438" width="1" height="5"/>
<rect x="383" y="438" width="1" height="5"/>
<rect x="533" y="438" width="1" height="5"/>
<rect x="743" y="438" width="1" height="5"/>
</g>
<g font-family="Liberation Sans, sans-serif" font-size="12.5" fill="#c1403c">
<text x="52.5" y="101.5" text-anchor="end">8.80</text>
<text x="804.5" y="101.5">8.80</text>
<text x="52.5" y="151" text-anchor="end">8.00</text>
<text x="804.5" y="151">8.00</text>
<text x="52.5" y="200" text-anchor="end">7.20</text>
<text x="804.5" y="200">7.20</text>
<text x="52.5" y="249.5" text-anchor="end">6.40</text>
<text x="804.5" y="249.5">6.40</text>
<text x="52.5" y="298.5" text-anchor="end">5.60</text>
<text x="804.5" y="298.5">5.60</text>
</g>
<g font-family="Liberation Sans, 'Noto Sans CJK SC', sans-serif" font-size="12.5" fill="#3b4856">
<text x="52.5" y="370" text-anchor="end">63.48</text><text x="52.5" y="401.5" text-anchor="end">31.74</text><text x="52.5" y="431.5" text-anchor="end" font-size="12">万</text>
<text x="804.5" y="370">63.48</text><text x="804.5" y="401.5">31.74</text><text x="804.5" y="431.5" font-size="12">万</text>
<text x="63.5" y="455.5" text-anchor="middle" letter-spacing="0.3">2018/12</text>
<text x="163.5" y="455.5" text-anchor="middle">01</text>
<text x="383.5" y="455.5" text-anchor="middle">02</text>
<text x="533.5" y="455.5" text-anchor="middle">03</text>
<text x="743.5" y="455.5" text-anchor="middle">04</text>
<text x="585.5" y="66" fill="#2b3038"><tspan font-family="DejaVu Sans, sans-serif">←</tspan>9.39</text><text x="376" y="304" fill="#2b3038"><tspan font-family="DejaVu Sans, sans-serif">←</tspan>5.52</text>
</g>
<rect x="566" y="313" width="16" height="16" rx="2.5" fill="#c8322f"/><text x="574" y="325.5" text-anchor="middle" font-family="'Noto Sans CJK SC', sans-serif" font-size="12" fill="#fff">涨</text>
</svg>
<div id="rp">
<div class="abs" style="left:-2px;top:0;width:1px;height:458px;background:#d5d8db"></div>
<div class="box" style="left:0;top:-1px;width:251px;height:53px"></div>
<div class="abs b" style="left:2.500px;top:5px;font-size:11px;line-height:12px">R</div>
<div class="abs" style="left:11px;top:4px;font-size:17px;line-height:22px;font-weight:bold;letter-spacing:0.3px">600200</div>
<div class="abs b" style="left:84px;top:3px;font-size:16px;line-height:22px;font-weight:bold">江苏吴中</div>
<div class="abs" style="left:193px;top:3px;width:55px;height:21px;background:#dcdee0;border:1px solid #d3d5d8;border-radius:2px;font-size:13px;line-height:19px;text-align:center">加自选</div>
<div class="abs g" style="left:11px;top:26px;font-size:19px;line-height:24px;font-weight:bold;color:#4ca64a">7.88</div>
<svg class="abs" style="left:50px;top:30.500px" width="15.500" height="14.500" viewBox="0 0 16 15"><path d="M5.500 0H10.500V7.500H15.500L8 15L0.500 7.500H5.500Z" fill="#4ca64a"/></svg>
<div class="abs g" style="left:89px;top:28px;font-size:14px;line-height:22px">-0.44</div>
<div class="abs g" style="left:132px;top:28px;font-size:14px;line-height:22px">-5.29%</div>
<svg class="abs" style="left:230px;top:32px" width="14.500" height="12.300" viewBox="0 0 15 13"><g fill="#3b4856"><rect x="0" y="0" width="2.200" height="2.400"/><rect x="4" y="0" width="11" height="2.400"/><rect x="0" y="5.200" width="2.200" height="2.400"/><rect x="4" y="5.200" width="11" height="2.400"/><rect x="0" y="10.400" width="2.200" height="2.400"/><rect x="4" y="10.400" width="11" height="2.400"/></g></svg>
<div class="box" style="left:0;top:53px;width:251px;height:226px"></div>
<div class="abs" style="left:5px;top:54px;font-size:14px;line-height:22px">委比</div>
<div class="abs r" style="left:41px;top:54px;font-size:14.5px;line-height:22px">+29.89%</div>
<div class="abs r" style="left:104px;top:54px;font-size:14.5px;line-height:22px">+2171</div>
<svg class="abs" style="left:231.300px;top:58.300px" width="12.800" height="12.800" viewBox="0 0 14 14"><circle cx="7" cy="7" r="3.600" fill="none" stroke="#3b4856" stroke-width="2.600"/><g stroke="#3b4856" stroke-width="2.400"><line x1="7" y1="0.300" x2="7" y2="3" transform="rotate(0 7 7)"/><line x1="7" y1="0.300" x2="7" y2="3" transform="rotate(45 7 7)"/><line x1="7" y1="0.300" x2="7" y2="3" transform="rotate(90 7 7)"/><line x1="7" y1="0.300" x2="7" y2="3" transform="rotate(135 7 7)"/><line x1="7" y1="0.300" x2="7" y2="3" transform="rotate(180 7 7)"/><line x1="7" y1="0.300" x2="7" y2="3" transform="rotate(225 7 7)"/><line x1="7" y1="0.300" x2="7" y2="3" transform="rotate(270 7 7)"/><line x1="7" y1="0.300" x2="7" y2="3" transform="rotate(315 7 7)"/></g></svg>
<div class="abs" style="left:1px;top:76px;width:249px;height:1px;background:#d9dcdf"></div>
<div class="abs" style="left:21px;top:77px;width:1px;height:201px;background:#d9dcdf"></div>
<div class="abs" style="left:1px;top:177px;width:249px;height:1px;background:#d9dcdf"></div>
<div class="abs" style="left:4px;top:109px;font-size:14px;line-height:19.500px;width:16px;white-space:normal;text-align:center">卖盘</div>
<div class="abs" style="left:4px;top:209.500px;font-size:14px;line-height:19.500px;width:16px;white-space:normal;text-align:center">买盘</div>
<div class="row" style="top:77.0px"><span style="left:23.500px">5</span><span class="g" style="right:149px">7.93</span><span class="b" style="right:73.500px">295</span></div>
<div class="row" style="top:97.0px"><span style="left:23.500px">4</span><span class="g" style="right:149px">7.92</span><span class="b" style="right:73.500px">276</span></div>
<div class="row" style="top:117.0px"><span style="left:23.500px">3</span><span class="g" style="right:149px">7.91</span><span class="b" style="right:73.500px">778</span></div>
<div class="row" style="top:137.0px"><span style="left:23.500px">2</span><span class="g" style="right:149px">7.90</span><span class="b" style="right:73.500px">871</span></div>
<div class="row" style="top:157.0px"><span style="left:23.500px">1</span><span class="g" style="right:149px">7.89</span><span class="b" style="right:73.500px">326</span></div>
<div class="row" style="top:178.0px"><span style="left:23.500px">1</span><span class="g" style="right:149px">7.88</span><span class="b" style="right:73.500px">870</span></div>
<div class="row" style="top:198.0px"><span style="left:23.500px">2</span><span class="g" style="right:149px">7.87</span><span class="b" style="right:73.500px">2079</span></div>
<div class="row" style="top:218.0px"><span style="left:23.500px">3</span><span class="g" style="right:149px">7.86</span><span class="b" style="right:73.500px">477</span></div>
<div class="row" style="top:238.0px"><span style="left:23.500px">4</span><span class="g" style="right:149px">7.85</span><span class="b" style="right:73.500px">698</span></div>
<div class="row" style="top:258.0px"><span style="left:23.500px">5</span><span class="g" style="right:149px">7.84</span><span class="b" style="right:73.500px">594</span></div>
<div class="box" style="left:0;top:280px;width:251px;height:190px"></div>
<div class="row" style="top:282.2px"><span style="left:5px;font-size:14px">最新</span><span class="g" style="right:127px">7.88</span><span style="left:130.500px;font-size:14px">开盘</span><span class="g" style="right:5.500px">7.62</span></div>
<div class="row" style="top:302.1px"><span style="left:5px;font-size:14px">涨跌</span><span class="g" style="right:127px">-0.44</span><span style="left:130.500px;font-size:14px">最高</span><span class="g" style="right:5.500px">8.26</span></div>
<div class="row" style="top:322.1px"><span style="left:5px;font-size:14px">涨幅</span><span class="g" style="right:127px">-5.29%</span><span style="left:130.500px;font-size:14px">最低</span><span class="g" style="right:5.500px">7.62</span></div>
<div class="row" style="top:342.0px"><span style="left:5px;font-size:14px">总量</span><span class="b" style="right:127px">57.71万</span><span style="left:130.500px;font-size:14px">量比</span><span class="b" style="right:5.500px">1.94</span></div>
<div class="row" style="top:362.0px"><span style="left:5px;font-size:14px">成交额</span><span class="b" style="right:127px">4.52亿</span><span style="left:130.500px;font-size:14px">换手</span><span class="b" style="right:5.500px">8.07%</span></div>
<div class="row" style="top:381.9px"><span style="left:5px;font-size:14px">振幅</span><span class="b" style="right:127px">7.69%</span><span style="left:130.500px;font-size:14px">换手<small>(实)</small></span><span class="b" style="right:5.500px">9.74%</span></div>
<div class="row" style="top:401.9px"><span style="left:5px;font-size:14px">涨停</span><span class="r" style="right:127px">9.15</span><span style="left:130.500px;font-size:14px">跌停</span><span class="g" style="right:5.500px">7.49</span></div>
<div class="row" style="top:421.9px"><span style="left:5px;font-size:14px">外盘</span><span class="r" style="right:127px">27.02万</span><span style="left:130.500px;font-size:14px">内盘</span><span class="g" style="right:5.500px">30.68万</span></div>
<div class="row" style="top:441.8px"><span style="left:5px;font-size:14px">市盈<small>(静)</small></span><span class="b" style="right:127px">42.74</span><span style="left:130.500px;font-size:14px">市盈<small>(TTM)</small></span><span class="b" style="right:5.500px">38.80</span></div>
</div>
</body></html>
